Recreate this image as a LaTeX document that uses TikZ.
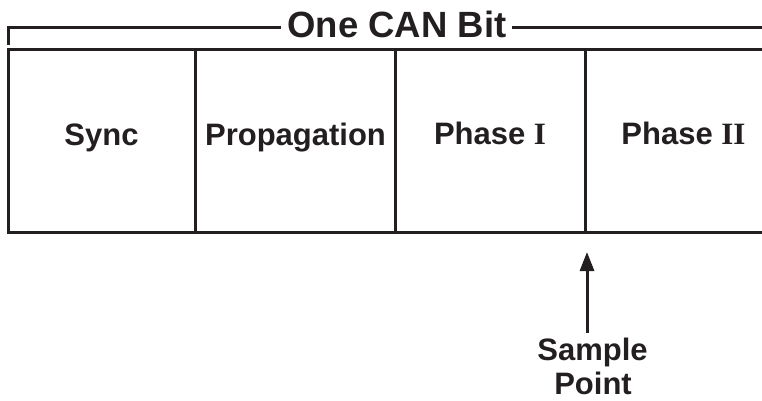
\documentclass[tikz,border=0pt]{standalone}
\usepackage{fontspec}
\setmainfont{Liberation Sans}
\newfontfamily\romfont{Liberation Serif}
\usetikzlibrary{arrows.meta}
\definecolor{ink}{HTML}{231F20}
\begin{document}
\begin{tikzpicture}[x=1pt,y=-1pt,
  rule/.style={draw=ink,line width=3pt},
  lbl/.style={text=ink,inner sep=0pt,anchor=base,font=\fontsize{31}{35}\selectfont\bfseries},
  ttl/.style={text=ink,inner sep=0pt,anchor=base,font=\fontsize{36.5}{40}\selectfont\bfseries}]
\useasboundingbox (0,0) rectangle (762,401);
% title bracket
\node[ttl] (title) at (397,38) {One CAN Bit};
\coordinate (tl) at (8,45);
\coordinate (tlc) at (8,28);
\coordinate (tr) at (762,28);
\draw[rule] (tl) -- (tlc) -- ([xshift=-6pt]title.west |- tlc);
\draw[rule] ([xshift=5pt]title.east |- tr) -- (tr);
% box
\coordinate (b1) at (8,50);
\coordinate (b2) at (762,50);
\coordinate (b3) at (8,232);
\coordinate (b4) at (762,232);
\draw[rule] (b2) -- (b1) -- (b3) -- (b4);
\coordinate (v1t) at (195,50); \coordinate (v1b) at (195,232);
\coordinate (v2t) at (395,50); \coordinate (v2b) at (395,232);
\coordinate (v3t) at (585,50); \coordinate (v3b) at (585,232);
\draw[rule] (v1t) -- (v1b);
\draw[rule] (v2t) -- (v2b);
\draw[rule] (v3t) -- (v3b);
% labels
\node[lbl] (sync) at (101.5,145) {Sync};
\node[lbl] (prop) at (295.5,145) {Propagation};
\node[lbl] (ph1) at (490,144) {Phase {\romfont I}};
\node[lbl] (ph2) at (683.5,144) {Phase {\romfont II}};
% sample point
\node[lbl] (sample) at (592.5,360) {Sample};
\node[lbl] (point) at (593,394) {Point};
\coordinate (tip) at (587,252);
\draw[draw=ink,line width=3pt,-{Triangle[length=19pt,width=14pt]}] (587,333) -- (tip);
\end{tikzpicture}
\end{document}
